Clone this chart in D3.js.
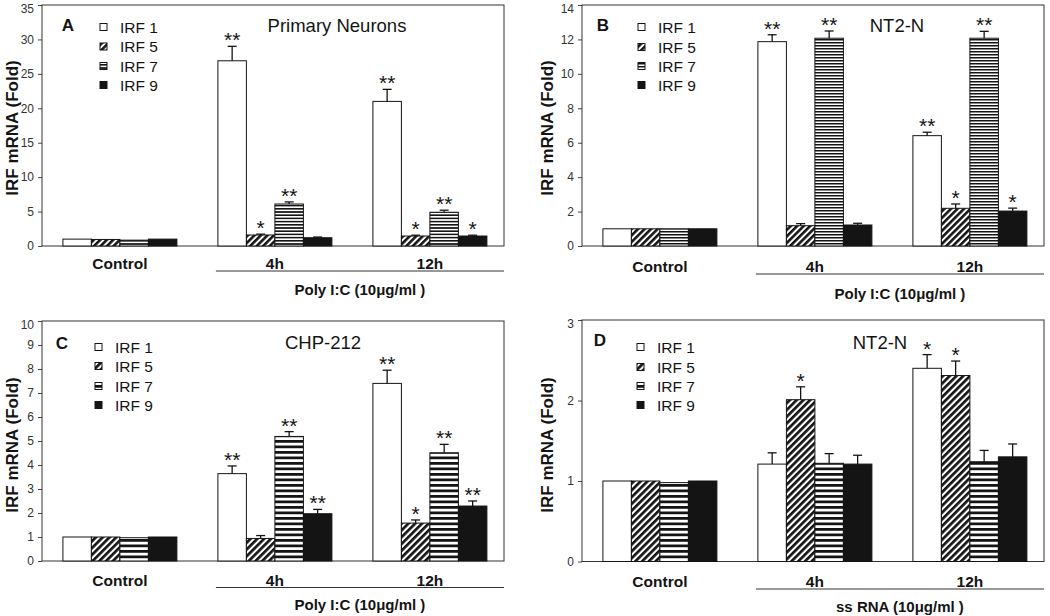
<!DOCTYPE html>
<html><head><meta charset="utf-8">
<script src="https://cdn.jsdelivr.net/npm/d3@7"></script>
<style>body{margin:0;background:#fff}svg{display:block}text{font-family:"Liberation Sans",Arial,Helvetica,sans-serif}</style>
</head><body><svg id="chart" width="1050" height="616"></svg>
<script>
// ---------- data ----------
const groups = ["Control", "4h", "12h"];
const seriesNames = ["IRF 1", "IRF 5", "IRF 7", "IRF 9"];

// Panel A: Primary Neurons (rows = groups, cols = series)
const aTicks = [0, 5, 10, 15, 20, 25, 30, 35];
const aValues = [[1.0, 0.95, 0.85, 1.0], [26.9, 1.6, 6.1, 1.2], [21.0, 1.45, 4.9, 1.45]];
const aErrors = [[0, 0, 0, 0], [2.1, 0.12, 0.3, 0.1], [1.75, 0.12, 0.3, 0.12]];
const aStars = [["", "", "", ""], ["**", "*", "**", ""], ["**", "*", "**", "*"]];

// Panel B: NT2-N, Poly I:C
const bTicks = [0, 2, 4, 6, 8, 10, 12, 14];
const bValues = [[1.0, 1.0, 1.0, 1.0], [11.87, 1.18, 12.07, 1.22], [6.41, 2.19, 12.07, 2.03]];
const bErrors = [[0, 0, 0, 0], [0.4, 0.12, 0.42, 0.1], [0.2, 0.25, 0.4, 0.17]];
const bStars = [["", "", "", ""], ["**", "", "**", ""], ["**", "*", "**", "*"]];

// Panel C: CHP-212
const cTicks = [0, 1, 2, 3, 4, 5, 6, 7, 8, 9, 10];
const cValues = [[1.0, 1.0, 0.97, 1.0], [3.64, 0.94, 5.19, 1.97], [7.4, 1.58, 4.51, 2.29]];
const cErrors = [[0, 0, 0, 0], [0.32, 0.12, 0.2, 0.18], [0.55, 0.13, 0.35, 0.21]];
const cStars = [["", "", "", ""], ["**", "", "**", "**"], ["**", "*", "**", "**"]];

// Panel D: NT2-N, ss RNA
const dTicks = [0, 1, 2, 3];
const dValues = [[1.0, 1.0, 0.98, 1.0], [1.21, 2.01, 1.22, 1.21], [2.4, 2.31, 1.24, 1.3]];
const dErrors = [[0, 0, 0, 0], [0.14, 0.16, 0.12, 0.11], [0.17, 0.18, 0.14, 0.16]];
const dStars = [["", "", "", ""], ["", "*", "", ""], ["*", "*", "", ""]];

const letters = ["A", "B", "C", "D"];
const titles = ["Primary Neurons", "NT2-N", "CHP-212", "NT2-N"];
const treatments = ["Poly I:C (10\u03bcg/ml )", "Poly I:C (10\u03bcg/ml )", "Poly I:C (10\u03bcg/ml )", "ss RNA (10\u03bcg/ml )"];
const yTitle = "IRF mRNA (Fold)";

// ---------- layout ----------
const panels = [
  {id:"a", values:aValues, errors:aErrors, stars:aStars, ticks:aTicks, max:35, letter:letters[0], title:titles[0], treat:treatments[0],
   x0:42, x1:504, yb:246, yt:5, stripe:3.2, hatch:4.6,
   letterPos:[68,25], titlePos:[337,25], legX:100, legY:[27,46.5,66,85],
   ytX:12, ytY:128, catY:263, brY:271, trY:289},
  {id:"b", values:bValues, errors:bErrors, stars:bStars, ticks:bTicks, max:14, letter:letters[1], title:titles[1], treat:treatments[1],
   x0:582, x1:1044, yb:246, yt:5, stripe:3.0, hatch:4.6,
   letterPos:[603,25], titlePos:[897,25], legX:638, legY:[27,47,66,85],
   ytX:547, ytY:128, catY:266, brY:274, trY:293},
  {id:"c", values:cValues, errors:cErrors, stars:cStars, ticks:cTicks, max:10, letter:letters[2], title:titles[2], treat:treatments[2],
   x0:42, x1:504, yb:561, yt:321, stripe:5.5, hatch:4.8,
   letterPos:[62,343], titlePos:[323,342], legX:95, legY:[347,366,386,405],
   ytX:12, ytY:445, catY:580, brY:587.5, trY:604},
  {id:"d", values:dValues, errors:dErrors, stars:dStars, ticks:dTicks, max:3, letter:letters[3], title:titles[3], treat:treatments[3],
   x0:582, x1:1044, yb:561.5, yt:320, stripe:5.5, hatch:4.8,
   letterPos:[600,340], titlePos:[880,342], legX:637, legY:[347,367,386,405],
   ytX:547, ytY:445, catY:581.5, brY:589, trY:606}
];

const svg = d3.select("#chart");
const defs = svg.append("defs");
const INK = "#141414";

function makePatterns(p) {
  // diagonal hatch "/"
  const h = defs.append("pattern").attr("id", "hatch-" + p.id)
    .attr("patternUnits", "userSpaceOnUse").attr("width", p.hatch).attr("height", p.hatch)
    .attr("patternTransform", "rotate(45)");
  h.append("rect").attr("width", p.hatch).attr("height", p.hatch).attr("fill", "#fff");
  h.append("rect").attr("width", p.hatch * 0.56).attr("height", p.hatch).attr("fill", INK);
  // horizontal stripes
  const s = defs.append("pattern").attr("id", "stripe-" + p.id)
    .attr("patternUnits", "userSpaceOnUse").attr("width", 6).attr("height", p.stripe);
  s.append("rect").attr("width", 6).attr("height", p.stripe).attr("fill", "#fff");
  s.append("rect").attr("width", 6).attr("height", p.stripe * 0.5).attr("fill", INK);
}

function drawPanel(p) {
  makePatterns(p);
  const fills = ["#fff", `url(#hatch-${p.id})`, `url(#stripe-${p.id})`, INK];
  const g = svg.append("g");
  const y = d3.scaleLinear().domain([0, p.max]).range([p.yb, p.yt]);
  const x = d3.scaleBand().domain(groups).range([p.x0, p.x1])
    .paddingInner(0.2645).paddingOuter(0.1226).align(0.55);
  const xs = d3.scaleBand().domain(seriesNames).range([0, x.bandwidth()]);

  // y axis
  const ax = g.append("g").attr("transform", `translate(${p.x0},0)`)
    .call(d3.axisLeft(y).tickValues(p.ticks).tickFormat(d3.format("d")).tickSize(4).tickPadding(4));
  ax.select(".domain").remove();
  ax.selectAll("line").attr("stroke", "#444");
  ax.selectAll("text").attr("font-size", 12).attr("fill", "#333")
    .style("font-family", '"Liberation Sans",Arial,sans-serif')
    .attr("dy", d => d === p.max ? "0.62em" : "0.32em");

  // frame
  g.append("rect").attr("x", p.x0).attr("y", p.yt).attr("width", p.x1 - p.x0).attr("height", p.yb - p.yt)
    .attr("fill", "none").attr("stroke", "#333").attr("stroke-width", 1);

  // bars
  const recs = [];
  groups.forEach((grp, gi) => seriesNames.forEach((s, si) => {
    recs.push({grp, s, si, v: p.values[gi][si], e: p.errors[gi][si], star: p.stars[gi][si]});
  }));
  const bg = g.append("g");
  bg.selectAll("rect").data(recs).join("rect")
    .attr("x", d => x(d.grp) + xs(d.s))
    .attr("y", d => y(d.v))
    .attr("width", xs.bandwidth())
    .attr("height", d => y(0) - y(d.v))
    .attr("fill", d => fills[d.si])
    .attr("stroke", INK).attr("stroke-width", 1);

  // error bars
  const er = recs.filter(d => d.e > 0);
  const eg = g.append("g").attr("stroke", INK).attr("stroke-width", 1.3);
  eg.selectAll("line.v").data(er).join("line").attr("class", "v")
    .attr("x1", d => x(d.grp) + xs(d.s) + xs.bandwidth() / 2)
    .attr("x2", d => x(d.grp) + xs(d.s) + xs.bandwidth() / 2)
    .attr("y1", d => y(d.v)).attr("y2", d => y(d.v + d.e));
  eg.selectAll("line.c").data(er).join("line").attr("class", "c")
    .attr("x1", d => x(d.grp) + xs(d.s) + xs.bandwidth() / 2 - 4.5)
    .attr("x2", d => x(d.grp) + xs(d.s) + xs.bandwidth() / 2 + 4.5)
    .attr("y1", d => y(d.v + d.e)).attr("y2", d => y(d.v + d.e));

  // significance stars
  g.append("g").selectAll("text").data(recs.filter(d => d.star)).join("text")
    .attr("x", d => x(d.grp) + xs(d.s) + xs.bandwidth() / 2)
    .attr("y", d => y(d.v + d.e) + 1)
    .attr("text-anchor", "middle").attr("font-size", 21).attr("fill", INK)
    .text(d => d.star);

  // category labels
  g.append("g").selectAll("text").data(groups).join("text")
    .attr("x", d => x(d) + x.bandwidth() / 2).attr("y", p.catY)
    .attr("dominant-baseline", "central").attr("text-anchor", "middle")
    .attr("font-size", 15.5).attr("font-weight", "bold").attr("fill", INK).text(d => d);

  // treatment bracket
  const bx0 = x(groups[1]) - 2;
  g.append("line").attr("x1", bx0).attr("x2", p.x1).attr("y1", p.brY).attr("y2", p.brY)
    .attr("stroke", "#333").attr("stroke-width", 1.2);
  g.append("text").attr("x", (bx0 + p.x1) / 2).attr("y", p.trY)
    .attr("dominant-baseline", "central").attr("text-anchor", "middle")
    .attr("font-size", 15).attr("font-weight", "bold").attr("fill", INK).text(p.treat);

  // y title
  g.append("text").attr("transform", `translate(${p.ytX},${p.ytY}) rotate(-90)`)
    .attr("dominant-baseline", "central").attr("text-anchor", "middle")
    .attr("font-size", 17).attr("font-weight", "bold").attr("fill", INK).text(yTitle);

  // letter and title
  g.append("text").attr("x", p.letterPos[0]).attr("y", p.letterPos[1])
    .attr("dominant-baseline", "central").attr("text-anchor", "middle")
    .attr("font-size", 17).attr("font-weight", "bold").attr("fill", INK).text(p.letter);
  g.append("text").attr("x", p.titlePos[0]).attr("y", p.titlePos[1])
    .attr("dominant-baseline", "central").attr("text-anchor", "middle")
    .attr("font-size", 18.5).attr("fill", INK).text(p.title);

  // legend
  const lg = g.append("g");
  seriesNames.forEach((s, si) => {
    lg.append("rect").attr("x", p.legX).attr("y", p.legY[si] - 3.5).attr("width", 7).attr("height", 7)
      .attr("fill", fills[si]).attr("stroke", INK).attr("stroke-width", 1);
    lg.append("text").attr("x", p.legX + 20).attr("y", p.legY[si])
      .attr("dominant-baseline", "central").attr("font-size", 15.5).attr("fill", INK).text(s);
  });
}

panels.forEach(drawPanel);
</script>
</body></html>
